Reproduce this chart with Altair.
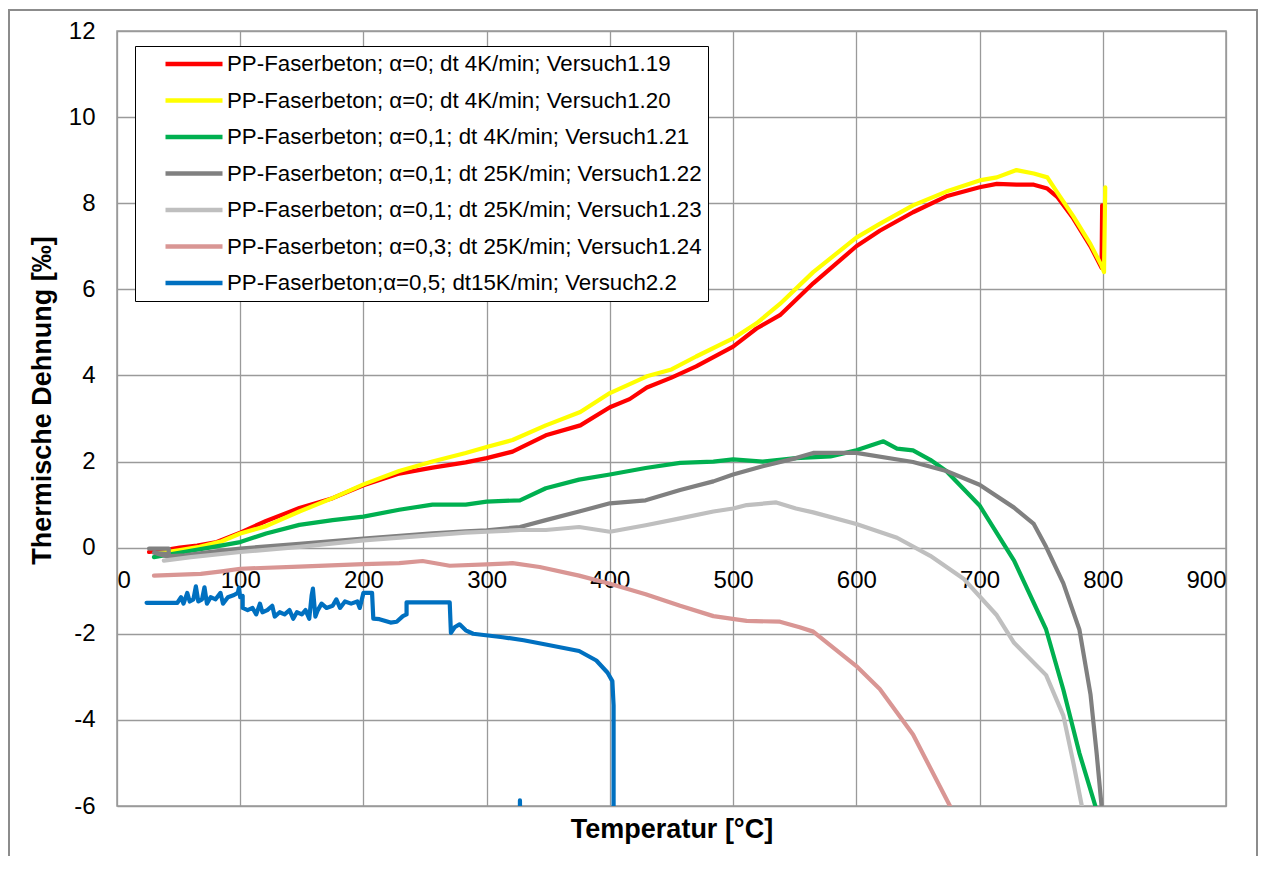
import altair as alt
import pandas as pd

series_names = [
    "PP-Faserbeton; α=0; dt 4K/min; Versuch1.19",
    "PP-Faserbeton; α=0; dt 4K/min; Versuch1.20",
    "PP-Faserbeton; α=0,1; dt 4K/min; Versuch1.21",
    "PP-Faserbeton; α=0,1; dt 25K/min; Versuch1.22",
    "PP-Faserbeton; α=0,1; dt 25K/min; Versuch1.23",
    "PP-Faserbeton; α=0,3; dt 25K/min; Versuch1.24",
    "PP-Faserbeton;α=0,5; dt15K/min; Versuch2.2",
]
series_colors = ["#FF0000", "#FFFF00", "#00B050", "#808080", "#BFBFBF", "#D99694", "#0070C0"]

t_119 = [26, 40, 51, 65, 81, 100, 121, 148, 175, 200, 229, 256, 283, 300, 321, 348, 376, 400, 416, 430, 450, 470,
         500, 519, 538, 565, 600, 619, 646, 673, 700, 714, 730, 744, 755, 763, 776, 790, 799, 799.5]
e_119 = [-0.1, -0.05, 0.0, 0.05, 0.13, 0.35, 0.62, 0.92, 1.15, 1.45, 1.72, 1.86, 1.98, 2.08, 2.23, 2.61, 2.84, 3.26,
         3.45, 3.72, 3.95, 4.21, 4.67, 5.09, 5.4, 6.14, 7.0, 7.36, 7.79, 8.16, 8.37, 8.45, 8.43, 8.43, 8.34, 8.15,
         7.65, 7.0, 6.5, 7.95]

t_120 = [32, 50, 67, 85, 100, 121, 148, 175, 200, 229, 256, 283, 300, 321, 348, 376, 400, 430, 450, 470, 500, 519,
         538, 565, 600, 619, 646, 673, 700, 714, 730, 744, 755, 763, 776, 790, 799, 801, 802]
e_120 = [-0.14, -0.06, 0.02, 0.15, 0.33, 0.5, 0.84, 1.15, 1.47, 1.78, 2.0, 2.2, 2.34, 2.5, 2.84, 3.15, 3.59, 3.98,
         4.14, 4.44, 4.86, 5.21, 5.66, 6.4, 7.2, 7.52, 7.95, 8.27, 8.53, 8.6, 8.77, 8.69, 8.6, 8.25, 7.7, 7.05,
         6.55, 6.4, 8.37]

t_121 = [30, 54, 75, 100, 121, 148, 175, 200, 229, 256, 283, 300, 327, 348, 375, 400, 429, 457, 484, 500, 524, 551,
         579, 600, 622, 633, 646, 660, 673, 700, 728, 754, 768, 781, 794, 797]
e_121 = [-0.22, -0.1, 0.0, 0.13, 0.33, 0.53, 0.64, 0.72, 0.88, 1.0, 1.0, 1.07, 1.1, 1.38, 1.58, 1.7, 1.85, 1.97,
         2.0, 2.05, 2.0, 2.08, 2.12, 2.26, 2.47, 2.3, 2.26, 2.04, 1.78, 0.98, -0.3, -1.9, -3.3, -4.77, -6.0, -7.0]

t_122 = [26, 42, 42, 30, 40, 55, 75, 100, 148, 200, 256, 283, 300, 327, 348, 375, 400, 429, 457, 484, 500, 524, 551,
         565, 600, 646, 673, 700, 728, 744, 754, 768, 781, 790, 795, 799, 800]
e_122 = [-0.02, -0.02, -0.15, -0.12, -0.2, -0.18, -0.1, -0.02, 0.09, 0.21, 0.33, 0.38, 0.4, 0.48, 0.64, 0.84, 1.03,
         1.1, 1.34, 1.54, 1.7, 1.89, 2.08, 2.2, 2.2, 1.99, 1.78, 1.46, 0.93, 0.55, 0.02, -0.83, -1.9, -3.4, -4.77,
         -6.0, -7.0]

t_123 = [38, 60, 100, 148, 200, 256, 283, 300, 327, 348, 375, 400, 429, 457, 484, 500, 511, 535, 551, 565, 600, 633,
         660, 687, 714, 728, 754, 768, 776, 783, 785]
e_123 = [-0.3, -0.22, -0.1, 0.02, 0.17, 0.29, 0.35, 0.37, 0.41, 0.41, 0.48, 0.37, 0.52, 0.68, 0.84, 0.91, 0.99, 1.05,
         0.91, 0.82, 0.55, 0.23, -0.19, -0.72, -1.57, -2.21, -2.96, -3.9, -4.98, -6.0, -7.0]

t_124 = [30, 68, 85, 100, 148, 200, 229, 248, 270, 300, 321, 343, 375, 400, 429, 457, 484, 511, 538, 554, 565, 600,
         619, 646, 676, 680]
e_124 = [-0.65, -0.61, -0.55, -0.49, -0.44, -0.38, -0.36, -0.31, -0.42, -0.39, -0.36, -0.45, -0.65, -0.84, -1.08,
         -1.35, -1.59, -1.7, -1.72, -1.85, -1.95, -2.75, -3.28, -4.34, -6.0, -6.3]

t_22 = [24, 49, 52, 54, 57, 59, 62, 64, 66, 69, 71, 73, 76, 80, 84, 86, 90, 95, 98, 99, 100, 102, 102, 106, 110, 113,
        116, 118, 122, 126, 128, 132, 136, 140, 143, 146, 150, 153, 156, 158, 159, 161, 163, 166, 170, 175, 178, 181,
        185, 190, 195, 197, 200, 207, 208, 213, 222, 227, 232, 235, 235, 270, 271, 274, 278, 283, 289, 313, 330, 348,
        375, 389, 398, 402, 403, 403, 404, 327, 327, 328]
e_22 = [-1.28, -1.28, -1.15, -1.3, -1.05, -1.25, -1.2, -0.9, -1.25, -1.2, -0.92, -1.3, -1.15, -1.2, -1.05, -1.3,
        -1.15, -1.1, -1.05, -0.93, -1.15, -1.12, -1.4, -1.45, -1.4, -1.55, -1.3, -1.5, -1.45, -1.35, -1.6, -1.5,
        -1.55, -1.45, -1.65, -1.5, -1.55, -1.45, -1.65, -1.1, -0.95, -1.6, -1.45, -1.3, -1.4, -1.35, -1.2, -1.4,
        -1.25, -1.3, -1.25, -1.4, -1.05, -1.05, -1.65, -1.66, -1.74, -1.72, -1.59, -1.55, -1.27, -1.27, -1.98,
        -1.85, -1.78, -1.92, -2.0, -2.08, -2.15, -2.25, -2.4, -2.62, -2.9, -3.1, -3.66, -6.2, -8.0, -8.0, -5.87, -8.0]

x_ticks = [0, 100, 200, 300, 400, 500, 600, 700, 800, 900]
y_ticks = [-6, -4, -2, 0, 2, 4, 6, 8, 10, 12]

temps = [t_119, t_120, t_121, t_122, t_123, t_124, t_22]
strains = [e_119, e_120, e_121, e_122, e_123, e_124, e_22]

rows = []
for name, ts, es in zip(series_names, temps, strains):
    for i, (t, e) in enumerate(zip(ts, es)):
        rows.append({"Serie": name, "T": t, "E": e, "i": i})
df = pd.DataFrame(rows)

FONT = "Liberation Sans"
HYPHEN_LABEL = "datum.value < 0 ? '-' + abs(datum.value) : '' + datum.value"

lines = alt.Chart(df).mark_line(strokeWidth=4.2, clip=True, strokeJoin="round", strokeCap="round").encode(
    x=alt.X("T:Q",
            scale=alt.Scale(domain=[0, 900], nice=False, zero=False),
            axis=alt.Axis(values=x_ticks, offset=-259, title="Temperatur [°C]",
                          labelPadding=21, titleY=290, titleBaseline="alphabetic")),
    y=alt.Y("E:Q",
            scale=alt.Scale(domain=[-6, 12], nice=False, zero=False),
            axis=alt.Axis(values=y_ticks, title="Thermische Dehnung [‰]", labelPadding=22,
                          labelExpr=HYPHEN_LABEL,
                          titleX=-75, titleY=369, titleBaseline="middle", titleAlign="center", titleAngle=270)),
    color=alt.Color("Serie:N",
                    scale=alt.Scale(domain=series_names, range=series_colors),
                    legend=alt.Legend(title=None, orient="none", legendX=18, legendY=15,
                                      symbolType="M-3,0H3", symbolSize=361, symbolStrokeWidth=4.6,
                                      symbolOffset=41, labelOffset=21, rowPadding=12.5,
                                      labelFontSize=22.3, labelFont=FONT, labelColor="#000000",
                                      labelLimit=700, fillColor="#FFFFFF", strokeColor="#000000",
                                      padding=6)),
    order=alt.Order("i:Q"),
)

frame = alt.Chart(pd.DataFrame({"k": [0]})).mark_rect(
    fill="transparent", stroke="#8C8C8C", strokeWidth=2, clip=False
).encode(x=alt.value(-108), x2=alt.value(1140), y=alt.value(-21), y2=alt.value(900))

chart = alt.layer(frame, lines).properties(
    width=1109, height=775,
    padding={"left": 109, "top": 23, "right": 32, "bottom": 50},
    autosize=alt.AutoSizeParams(type="none"),
    background="#FFFFFF",
).configure_view(
    stroke="#999999", strokeWidth=1.5
).configure_axis(
    grid=True, gridColor="#9A9A9A", gridWidth=1.3, domain=False, ticks=False, tickSize=0,
    labelFont=FONT, labelFontSize=24, labelColor="#000000",
    titleFont=FONT, titleFontSize=27, titleFontWeight="bold", titleColor="#000000",
)

chart.save("out.html", embed_options={"renderer": "svg", "actions": False})
